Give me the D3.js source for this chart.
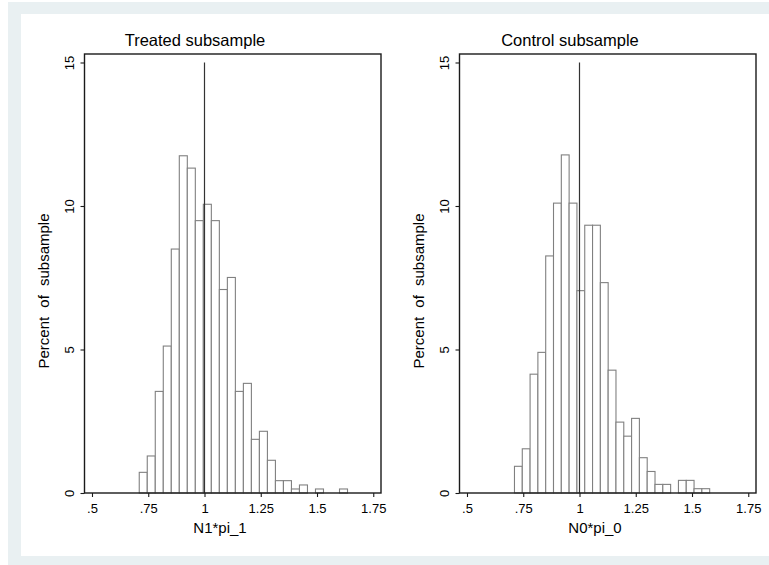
<!DOCTYPE html>
<html>
<head>
<meta charset="utf-8">
<script src="https://cdn.jsdelivr.net/npm/d3@7"></script>
<style>
  body { margin: 0; background: #fff; }
  text { font-family: "Liberation Sans", Arial, sans-serif; fill: #000; }
</style>
</head>
<body>
<div id="chart"></div>
<script>
// percent of subsample in each bin
const treatedPct = [0.72, 1.29, 3.54, 5.12, 8.50, 11.75, 11.32, 9.49, 10.06, 9.49, 7.09, 7.51, 3.54,
  3.82, 1.87, 2.15, 1.14, 0.43, 0.43, 0.14, 0.28, 0, 0.14, 0, 0, 0.14]
const controlPct = [0.93, 1.54, 4.14, 4.90, 8.26, 10.10, 11.78, 10.10, 7.05, 9.33, 9.33, 7.33, 4.28,
  2.47, 1.98, 2.60, 1.23, 0.75, 0.30, 0.30, 0, 0.44, 0.44, 0.15, 0.15]
const treatedBins = {start: 0.710, width: 0.0356}
const controlBins = {start: 0.711, width: 0.0347}
const xTicks = [0.5, 0.75, 1, 1.25, 1.5, 1.75]
const yTicks = [0, 5, 10, 15]
const refLine = 1

const W = 769, H = 565

const svg = d3.select('#chart').append('svg')
  .attr('width', W)
  .attr('height', H)

// outer frame like the stata graph region
svg.append('rect').attr('x', 8).attr('y', 2).attr('width', W).attr('height', H)
  .attr('fill', '#e9f0f2')
svg.append('rect').attr('x', 21).attr('y', 14).attr('width', W).attr('height', 556 - 14)
  .attr('fill', '#fff')

function drawPanel(dx, pct, bins, title, xlabel) {
  const plot = {left: 84.5, right: 381, top: 54, bottom: 493}
  const x = d3.scaleLinear().domain([0.4667, 1.7844]).range([plot.left, plot.right])
  const y = d3.scaleLinear().domain([0, 15.296]).range([plot.bottom, plot.top])

  const g = svg.append('g').attr('transform', `translate(${dx},0)`)

  const bars = pct.map((v, i) => ({
    x0: bins.start + i * bins.width,
    x1: bins.start + (i + 1) * bins.width,
    v
  })).filter(d => d.v > 0)

  g.append('g').selectAll('rect')
    .data(bars)
    .enter().append('rect')
    .attr('x', d => x(d.x0))
    .attr('width', d => x(d.x1) - x(d.x0))
    .attr('y', d => y(d.v))
    .attr('height', d => y(0) - y(d.v))
    .attr('fill', '#fff')
    .attr('stroke', '#808080')
    .attr('stroke-width', 1.1)

  // reference line at 1
  g.append('line')
    .attr('x1', x(refLine)).attr('x2', x(refLine))
    .attr('y1', y(15)).attr('y2', y(0))
    .attr('stroke', '#333')
    .attr('stroke-width', 1.2)

  // plot box
  g.append('rect')
    .attr('x', plot.left).attr('y', plot.top)
    .attr('width', plot.right - plot.left).attr('height', plot.bottom - plot.top)
    .attr('fill', 'none')
    .attr('stroke', '#1a1a1a')
    .attr('stroke-width', 1.4)

  const yAxis = g.append('g')
    .attr('transform', `translate(${plot.left},0)`)
    .call(d3.axisLeft(y).tickValues(yTicks).tickSize(4).tickSizeOuter(0))
  yAxis.select('.domain').remove()
  yAxis.selectAll('line').attr('stroke', '#1a1a1a').attr('stroke-width', 1.1)
  yAxis.selectAll('text')
    .attr('transform', 'rotate(-90)')
    .attr('x', 0).attr('y', -11).attr('dy', null)
    .attr('text-anchor', 'middle')
    .style('font-size', '13px')

  const xAxis = g.append('g')
    .attr('transform', `translate(0,${plot.bottom})`)
    .call(d3.axisBottom(x).tickValues(xTicks).tickSize(4).tickSizeOuter(0)
      .tickFormat(d => String(d).replace(/^0\./, '.')))
  xAxis.select('.domain').remove()
  xAxis.selectAll('line').attr('stroke', '#1a1a1a').attr('stroke-width', 1.1)
  xAxis.selectAll('text')
    .attr('y', 20).attr('dy', null)
    .style('font-size', '13px')

  g.append('text')
    .attr('x', 195).attr('y', 46)
    .attr('text-anchor', 'middle')
    .style('font-size', '16.5px')
    .text(title)

  g.append('text')
    .attr('x', 220).attr('y', 533)
    .attr('text-anchor', 'middle')
    .style('font-size', '15px')
    .text(xlabel)

  g.append('text')
    .attr('transform', 'translate(48.5,291) rotate(-90)')
    .attr('text-anchor', 'middle')
    .style('font-size', '15px')
    .style('word-spacing', '5px')
    .text('Percent of subsample')
}

drawPanel(0, treatedPct, treatedBins, 'Treated subsample', 'N1*pi_1')
drawPanel(375, controlPct, controlBins, 'Control subsample', 'N0*pi_0')
</script>
</body>
</html>
